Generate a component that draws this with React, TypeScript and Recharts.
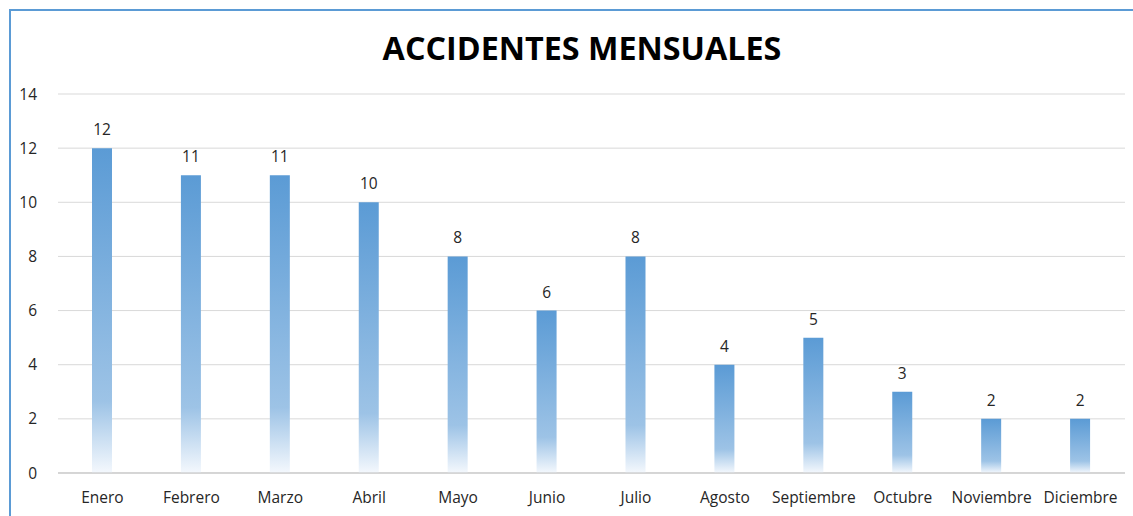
import React from 'react';
import { BarChart, Bar, XAxis, YAxis, CartesianGrid, LabelList } from 'recharts';

const months = ['Enero', 'Febrero', 'Marzo', 'Abril', 'Mayo', 'Junio', 'Julio', 'Agosto', 'Septiembre', 'Octubre', 'Noviembre', 'Diciembre'];
const accidents = [12, 11, 11, 10, 8, 6, 8, 4, 5, 3, 2, 2];
const yTicks = [0, 2, 4, 6, 8, 10, 12, 14];

const data = months.map((month, i) => ({ month, accidents: accidents[i] }));

const font = '"Open Sans", sans-serif';
const textColor = '#262626';

export default function App() {
  return (
    <div style={{ position: 'absolute', left: 0, top: 0, width: 1133, height: 516, background: '#fff', overflow: 'hidden' }}>
      <div
        style={{
          position: 'absolute',
          left: 9,
          top: 9,
          width: 1200,
          height: 600,
          borderTop: '2px solid #5b9bd5',
          borderLeft: '2px solid #5b9bd5',
        }}
      />
      <div
        style={{
          position: 'absolute',
          left: 282,
          top: 25,
          width: 600,
          textAlign: 'center',
          fontFamily: font,
          fontWeight: 700,
          fontSize: 32.3,
          color: '#000',
          lineHeight: '44px',
        }}
      >
        ACCIDENTES MENSUALES
      </div>
      <div style={{ position: 'absolute', left: 0, top: 0 }}>
        <BarChart width={1133} height={516} data={data} margin={{ top: 94, right: 8, bottom: 13, left: 0 }}>
          <defs>
            <linearGradient id="barFade" x1="0" y1="0" x2="0" y2="1">
              <stop offset="0" stopColor="#5b9bd5" />
              <stop offset="0.78" stopColor="#9dc3e6" />
              <stop offset="1" stopColor="#f4f8fd" />
            </linearGradient>
          </defs>
          <CartesianGrid vertical={false} stroke="#d9d9d9" />
          <XAxis
            dataKey="month"
            height={30}
            axisLine={{ stroke: '#bfbfbf' }}
            tickLine={false}
            tickMargin={13}
            tick={{ fontFamily: font, fontSize: 15.5, fill: textColor }}
            interval={0}
          />
          <YAxis
            width={58}
            domain={[0, 14]}
            ticks={yTicks}
            axisLine={false}
            tickLine={false}
            tickMargin={15}
            tick={{ fontFamily: font, fontSize: 15.5, fill: textColor }}
          />
          <Bar dataKey="accidents" fill="url(#barFade)" barSize={20} isAnimationActive={false}>
            <LabelList
              dataKey="accidents"
              position="top"
              offset={13}
              style={{ fontFamily: font, fontSize: 15.5, fill: textColor }}
            />
          </Bar>
        </BarChart>
      </div>
    </div>
  );
}
